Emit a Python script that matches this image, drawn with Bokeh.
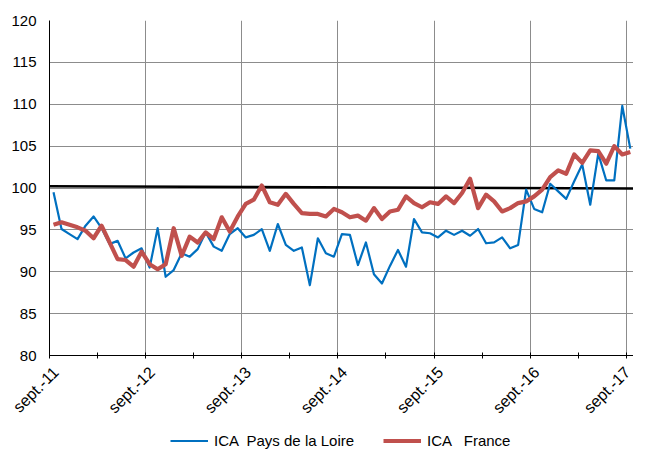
import math
from bokeh.plotting import figure
from bokeh.layouts import column
from bokeh.models import Range1d, FixedTicker, Legend, LegendItem, ColumnDataSource
from bokeh.embed import file_html
from bokeh.resources import INLINE

# ---- data ----
tick_labels = ["sept.-11", "sept.-12", "sept.-13", "sept.-14", "sept.-15", "sept.-16", "sept.-17"]
y_ticks = [80, 85, 90, 95, 100, 105, 110, 115, 120]
series_names = ["ICA  Pays de la Loire", "ICA   France"]

ica_pdl = [
    99.5, 95.1, 94.5, 93.9, 95.5, 96.6, 95.2, 93.3, 93.7, 91.6, 92.3, 92.8,
    90.5, 95.2, 89.4, 90.2, 92.2, 91.8, 92.7, 94.7, 93.0, 92.5, 94.5, 95.2,
    94.1, 94.4, 95.1, 92.5, 95.7, 93.2, 92.5, 92.9, 88.4, 94.0, 92.2, 91.8,
    94.5, 94.4, 90.8, 93.5, 89.7, 88.6, 90.7, 92.6, 90.6, 96.3, 94.7, 94.6,
    94.1, 94.9, 94.4, 94.9, 94.3, 95.1, 93.4, 93.5, 94.1, 92.8, 93.2, 99.8,
    97.5, 97.1, 100.5, 99.6, 98.7, 100.8, 102.8, 98.0, 104.1, 100.9, 100.9, 109.8,
    104.7,
]
ica_france = [
    95.6, 95.9, 95.6, 95.3, 94.9, 94.0, 95.5, 93.5, 91.5, 91.4, 90.6, 92.4,
    90.9, 90.3, 90.9, 95.2, 91.9, 94.2, 93.5, 94.7, 93.9, 96.5, 94.8, 96.6,
    98.1, 98.6, 100.3, 98.3, 98.0, 99.3, 98.1, 97.0, 96.9, 96.9, 96.6, 97.5,
    97.1, 96.5, 96.7, 96.1, 97.6, 96.3, 97.2, 97.4, 99.0, 98.2, 97.7, 98.3,
    98.1, 99.0, 98.2, 99.4, 101.1, 97.6, 99.2, 98.4, 97.2, 97.6, 98.2, 98.4,
    99.0, 99.8, 101.3, 102.1, 101.7, 104.0, 103.0, 104.5, 104.4, 102.9, 105.0, 104.0,
    104.3,
]
base_100 = [100.2, 99.93]

# ---- styles ----
FONT = "Liberation Sans"
BLUE = "#0070C0"
RED = "#C0504D"
W = 633

# ---- layout helpers ----
x_end = 72.9
label_shift = 0.8           # Excel-style label anchor offset (in months)
months = [i + 0.5 for i in range(len(ica_pdl))]
years = [12 * k for k in range(len(tick_labels))]
half_years = [6 * k for k in range(2 * len(tick_labels) - 1)]
label_pos = [y + label_shift for y in years]

src = ColumnDataSource(dict(x=months, pdl=ica_pdl, fr=ica_france))

p = figure(width=W, height=425, output_backend="svg", toolbar_location=None,
           x_range=Range1d(0, x_end), y_range=Range1d(80, 120),
           min_border_left=49, min_border_top=20, min_border_right=0,
           min_border_bottom=70)
p.outline_line_color = None
p.background_fill_color = "white"
p.border_fill_color = "white"

# x axis: tick marks every 6 months (minor), labels yearly (major, no marks)
p.xaxis.ticker = FixedTicker(ticks=label_pos, minor_ticks=half_years)
p.xaxis.major_label_overrides = {pos: lab for pos, lab in zip(label_pos, tick_labels)}
p.xaxis.major_label_orientation = math.pi / 4
p.xaxis.major_label_text_font = FONT
p.xaxis.major_label_text_font_size = "16px"
p.xaxis.major_label_text_color = "#000000"
p.xaxis.major_label_standoff = 11
p.xaxis.major_tick_in = 0
p.xaxis.major_tick_out = 0
p.xaxis.minor_tick_in = 3
p.xaxis.minor_tick_out = 3
p.xaxis.axis_line_color = "black"
p.xaxis.minor_tick_line_color = "black"

p.yaxis.ticker = FixedTicker(ticks=y_ticks)
p.yaxis.major_label_text_font = FONT
p.yaxis.major_label_text_font_size = "15px"
p.yaxis.major_label_text_color = "#000000"
p.yaxis.major_tick_in = 0
p.yaxis.major_tick_out = 0
p.yaxis.minor_tick_line_color = None
p.yaxis.major_label_standoff = 13
p.yaxis.axis_line_color = "black"

p.xgrid.ticker = FixedTicker(ticks=years)
p.ygrid.ticker = FixedTicker(ticks=y_ticks)
p.xgrid.grid_line_color = "#8c8c8c"
p.ygrid.grid_line_color = "#8c8c8c"
p.xgrid.grid_line_width = 1
p.ygrid.grid_line_width = 1

# base 100 line
p.line(x=[0, x_end], y=base_100, line_color="black", line_width=2.5)

p.line(x="x", y="pdl", source=src, line_color=BLUE, line_width=2.2, line_join="round")
p.line(x="x", y="fr", source=src, line_color=RED, line_width=4.2, line_join="round")

# ---- legend strip under the chart (proxy renderers with no visible data) ----
pl = figure(width=W, height=25, output_backend="svg", toolbar_location=None,
            x_range=Range1d(0, 1), y_range=Range1d(0, 1),
            min_border=0, x_axis_location=None, y_axis_location=None)
pl.outline_line_color = None
pl.grid.visible = False
pl.border_fill_color = "white"
proxy = ColumnDataSource(dict(x=[float("nan")], y=[float("nan")]))
lg_pdl = pl.line(x="x", y="y", source=proxy, line_color=BLUE, line_width=2.2)
lg_fr = pl.line(x="x", y="y", source=proxy, line_color=RED, line_width=4.2)

legend = Legend(items=[LegendItem(label=series_names[0], renderers=[lg_pdl]),
                       LegendItem(label=series_names[1], renderers=[lg_fr])],
                orientation="horizontal", location=(121, 1),
                border_line_color=None, background_fill_alpha=0,
                padding=0, margin=0, spacing=29, glyph_width=38, glyph_height=17,
                label_height=17, label_standoff=6,
                label_text_font=FONT, label_text_font_size="15px",
                label_text_color="#000000")
pl.add_layout(legend)

layout = column(p, pl, spacing=0)
open("out.html", "w").write(file_html(layout, INLINE))
